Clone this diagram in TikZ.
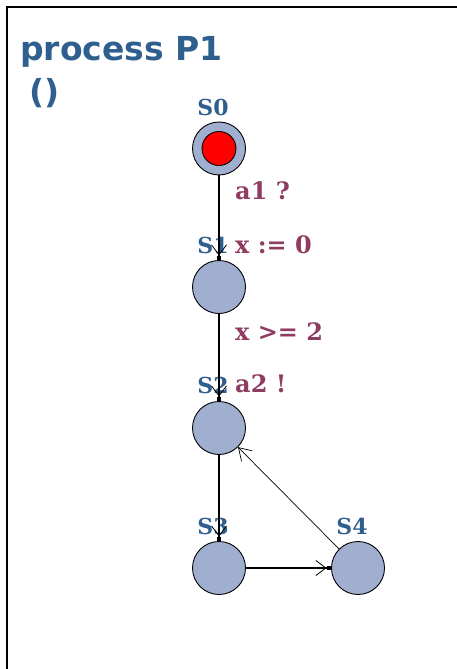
\documentclass[tikz,border=0pt]{standalone}
\usepackage{fontspec}
\setmainfont{DejaVu Serif}
\newfontfamily\titlefont{DejaVu Sans}
\usetikzlibrary{arrows.meta}
\definecolor{stateblue}{HTML}{A0AED0}
\definecolor{titleblue}{HTML}{2F5F8F}
\definecolor{labmaroon}{HTML}{8E3C60}
\tikzset{
  state/.style={circle,draw=black,fill=stateblue,minimum size=53pt,inner sep=0pt,line width=0.9pt},
  initin/.style={circle,draw=black,fill=red,minimum size=34pt,inner sep=0pt,line width=0.9pt},
  sname/.style={text=titleblue,font=\fontsize{22}{22}\selectfont\bfseries,inner sep=0pt},
  elabel/.style={text=labmaroon,font=\fontsize{24}{24}\selectfont\bfseries,anchor=base west,inner sep=0pt},
  edge/.style={line width=1.1pt,-{Straight Barb[length=10pt,width=15pt,line width=0.8pt] Square[length=4.5pt,width=4.5pt]}},
  backedge/.style={line width=0.7pt,-{Straight Barb[length=12pt,width=15pt,line width=0.7pt]}}
}
\begin{document}
\begin{tikzpicture}[x=1pt,y=-1pt]
\useasboundingbox (0,0) rectangle (457,669);
\draw[line width=1.8pt] (7,669) -- (7,7) -- (457,7);
\node[anchor=base west,text=titleblue,font=\titlefont\fontsize{33}{33}\selectfont\bfseries,inner sep=0pt] (title) at (20,60) {process P1};
\node[anchor=base west,text=titleblue,font=\titlefont\fontsize{33}{33}\selectfont\bfseries,inner sep=0pt] (params) at (29,103) {()};
\node[state] (s0) at (219,148.5) {};
\node[initin] (s0in) at (219,148.5) {};
\node[state] (s1) at (219,287) {};
\node[state] (s2) at (219,428) {};
\node[state] (s3) at (219,568) {};
\node[state] (s4) at (358,568) {};
\node[sname] (n0) at (213,107) {S0};
\node[sname] (n1) at (213,245) {S1};
\node[sname] (n2) at (213,385) {S2};
\node[sname] (n3) at (213,526) {S3};
\node[sname] (n4) at (352,526) {S4};
\draw[edge] (s0) -- (s1);
\draw[edge] (s1) -- (s2);
\draw[edge] (s2) -- (s3);
\draw[edge] (s3) -- (s4);
\draw[backedge] (s4) -- (s2);
\node[elabel] (l1) at (235,199) {a1 ?};
\node[elabel] (l2) at (235,253) {x := 0};
\node[elabel] (l3) at (235,340) {x >= 2};
\node[elabel] (l4) at (235,392) {a2 !};
\end{tikzpicture}
\end{document}
